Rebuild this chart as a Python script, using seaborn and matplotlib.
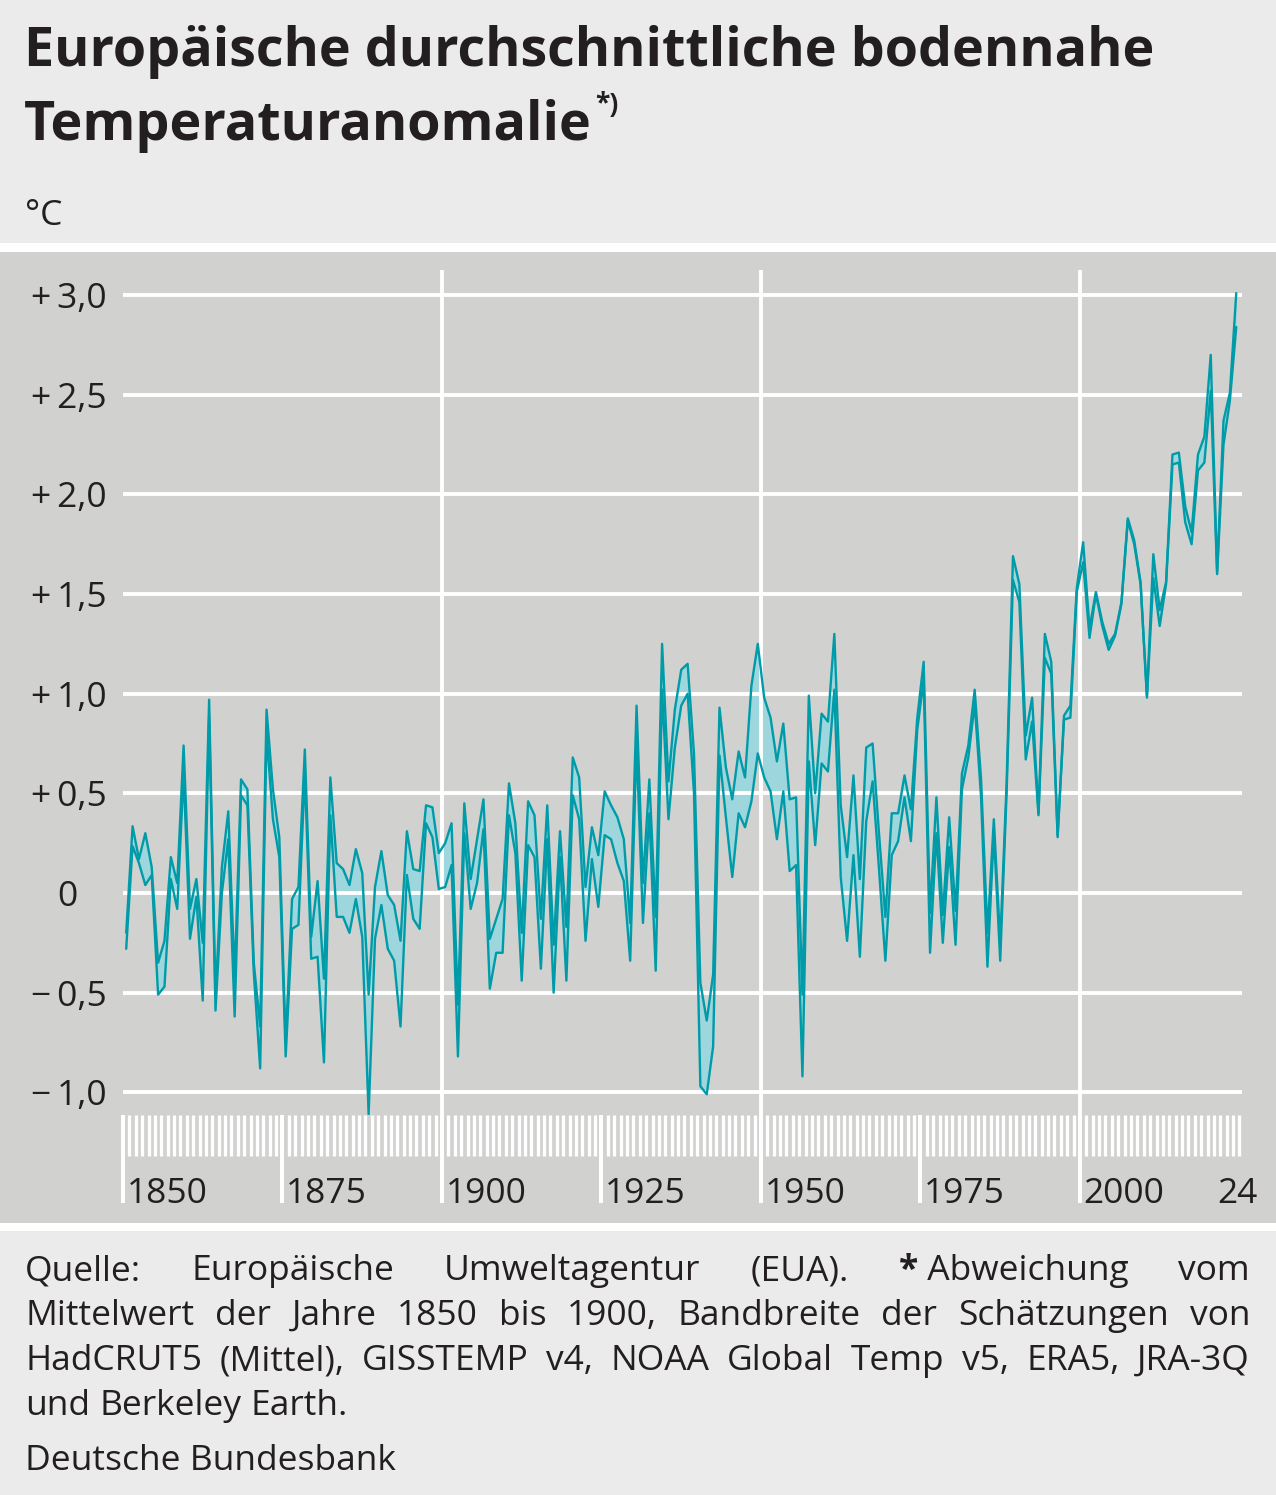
"""
European surface temperature anomaly (Bundesbank style chart).
"""
import matplotlib
matplotlib.use("Agg")
import matplotlib.pyplot as plt
from matplotlib.patches import Rectangle
import seaborn as sns
import numpy as np
import pandas as pd


# Data: range of estimates, deviation from 1850-1900 mean (deg C)
years = np.arange(1850, 2025)

upper = [
    -0.20, 0.335, 0.17, 0.30, 0.13, -0.35, -0.24, 0.18, 0.05, 0.74,      # 1850
    -0.08, 0.07, -0.25, 0.97, -0.52, 0.13, 0.41, -0.42, 0.57, 0.52,      # 1860
    -0.35, -0.67, 0.92, 0.52, 0.28, -0.75, -0.03, 0.03, 0.72, -0.22,     # 1870
    0.06, -0.43, 0.58, 0.15, 0.12, 0.04, 0.22, 0.10, -0.51, 0.03,        # 1880
    0.21, -0.01, -0.06, -0.24, 0.31, 0.12, 0.11, 0.44, 0.43, 0.20,       # 1890
    0.25, 0.35, -0.56, 0.45, 0.07, 0.27, 0.47, -0.23, -0.13, -0.03,      # 1900
    0.55, 0.35, -0.20, 0.46, 0.39, -0.13, 0.44, -0.26, 0.31, -0.17,      # 1910
    0.68, 0.58, 0.03, 0.33, 0.19, 0.51, 0.44, 0.38, 0.27, -0.15,         # 1920
    0.94, 0.05, 0.57, -0.12, 1.25, 0.56, 0.92, 1.12, 1.15, 0.70,         # 1930
    -0.45, -0.64, -0.41, 0.93, 0.63, 0.47, 0.71, 0.58, 1.04, 1.25,       # 1940
    0.98, 0.88, 0.66, 0.85, 0.47, 0.48, -0.51, 0.99, 0.50, 0.90,         # 1950
    0.86, 1.30, 0.44, 0.18, 0.59, 0.07, 0.73, 0.75, 0.30, -0.12,         # 1960
    0.40, 0.40, 0.59, 0.42, 0.88, 1.16, -0.10, 0.48, -0.11, 0.38,        # 1970
    -0.09, 0.60, 0.74, 1.02, 0.57, -0.20, 0.37, -0.25, 0.55, 1.69,       # 1980
    1.55, 0.79, 0.98, 0.40, 1.30, 1.16, 0.29, 0.89, 0.94, 1.53,          # 1990
    1.76, 1.33, 1.51, 1.36, 1.25, 1.30, 1.46, 1.88, 1.77, 1.56,          # 2000
    0.99, 1.70, 1.42, 1.56, 2.20, 2.21, 1.94, 1.81, 2.20, 2.29,          # 2010
    2.70, 1.61, 2.37, 2.51, 3.01,                                        # 2020
]
lower = [
    -0.28, 0.235, 0.15, 0.04, 0.09, -0.51, -0.47, 0.07, -0.08, 0.60,
    -0.23, -0.02, -0.54, 0.88, -0.59, 0.00, 0.27, -0.62, 0.49, 0.44,
    -0.40, -0.88, 0.80, 0.37, 0.18, -0.82, -0.18, -0.16, 0.60, -0.33,
    -0.32, -0.85, 0.39, -0.12, -0.12, -0.20, -0.03, -0.22, -1.11, -0.23,
    -0.06, -0.28, -0.34, -0.67, 0.09, -0.13, -0.18, 0.35, 0.28, 0.02,
    0.03, 0.14, -0.82, 0.30, -0.08, 0.05, 0.32, -0.48, -0.30, -0.30,
    0.39, 0.20, -0.44, 0.24, 0.18, -0.38, 0.27, -0.50, 0.18, -0.44,
    0.49, 0.37, -0.24, 0.17, -0.07, 0.29, 0.27, 0.15, 0.06, -0.34,
    0.75, -0.15, 0.40, -0.39, 1.02, 0.37, 0.73, 0.94, 1.00, 0.50,
    -0.97, -1.01, -0.77, 0.69, 0.38, 0.08, 0.40, 0.33, 0.46, 0.70,
    0.58, 0.51, 0.27, 0.51, 0.11, 0.14, -0.92, 0.66, 0.24, 0.65,
    0.61, 1.02, 0.08, -0.24, 0.19, -0.32, 0.36, 0.56, 0.12, -0.34,
    0.19, 0.26, 0.48, 0.26, 0.82, 1.07, -0.30, 0.30, -0.25, 0.23,
    -0.26, 0.52, 0.68, 0.95, 0.48, -0.37, 0.30, -0.34, 0.50, 1.57,
    1.46, 0.67, 0.86, 0.39, 1.18, 1.10, 0.28, 0.87, 0.88, 1.51,
    1.66, 1.28, 1.50, 1.34, 1.22, 1.29, 1.45, 1.87, 1.75, 1.55,
    0.98, 1.58, 1.34, 1.55, 2.15, 2.16, 1.86, 1.75, 2.12, 2.16,
    2.52, 1.60, 2.25, 2.47, 2.84,
]

y_ticks = [-1.0, -0.5, 0.0, 0.5, 1.0, 1.5, 2.0, 2.5, 3.0]
y_labels = ["\u2212\u20091,0", "\u2212\u20090,5", "0", "+\u20090,5", "+\u20091,0",
            "+\u20091,5", "+\u20092,0", "+\u20092,5", "+\u20093,0"]
label_years = [1850, 1875, 1900, 1925, 1950, 1975, 2000]
grid_years = [1900, 1950, 2000]

title_1 = "Europäische durchschnittliche bodennahe"
title_2 = "Temperaturanomalie"
unit = "°C"
footer = [
    "Quelle: Europäische Umweltagentur (EUA). *Abweichung vom",
    "Mittelwert der Jahre 1850 bis 1900, Bandbreite der Schätzungen von",
    "HadCRUT5 (Mittel), GISSTEMP v4, NOAA Global Temp v5, ERA5, JRA-3Q",
    "und Berkeley Earth.",
]
publisher = "Deutsche Bundesbank"

# Style
W, H, DPI = 1276, 1495, 100
LINE = "#009ba8"
FILL = "#9dd6dc"
PANEL = "#d1d1cf"
BG = "#ebebeb"
INK = "#231f20"
FS = 25.5
TITLE_FS = 38.8

sns.set_theme(style="white")
plt.rcParams['font.family'] = ['Open Sans', 'DejaVu Sans']


def fx(px):
    return px / W


def fy(py):
    return 1 - py / H


fig = plt.figure(figsize=(W / DPI, H / DPI), dpi=DPI, facecolor=BG)

# white separators + grey plot panel
fig.patches.append(Rectangle((0, fy(1231)), 1, fy(243) - fy(1231), transform=fig.transFigure,
                             facecolor="white", edgecolor="none", zorder=-2))
fig.patches.append(Rectangle((0, fy(1223)), 1, fy(252) - fy(1223), transform=fig.transFigure,
                             facecolor=PANEL, edgecolor="none", zorder=-1))

ax = fig.add_axes([fx(123), fy(1115), fx(1242) - fx(123), fy(270) - fy(1115)])
ax.set_facecolor("none")

df = pd.DataFrame({"year": years, "upper": upper, "lower": lower})
df["mid"] = df["year"] + 0.5   # annual values drawn at mid-year

ax.fill_between(df["mid"], df["lower"], df["upper"], color=FILL, lw=0, zorder=1)
sns.lineplot(data=df, x="mid", y="upper", color=LINE, lw=1.7, ax=ax, zorder=2)
sns.lineplot(data=df, x="mid", y="lower", color=LINE, lw=1.7, ax=ax, zorder=2)

ax.set_xlim(1850, 2025.4)
ax.set_ylim(-1.114, 3.126)
ax.set_xlabel("")
ax.set_ylabel("")
for s in ax.spines.values():
    s.set_visible(False)

# grid
ax.set_axisbelow("line")
ax.set_yticks(y_ticks)
ax.set_yticklabels([])
ax.yaxis.grid(True, color="white", lw=2.8)
ax.tick_params(axis="y", length=0)
for yr in grid_years:
    ax.axvline(yr, color="white", lw=2.8, zorder=1.5)

# year ticks strip
ax.set_xticks(label_years)
ax.set_xticks(np.arange(1850, 2026), minor=True)
ax.set_xticklabels([])
ax.tick_params(axis="x", which="major", direction="out", length=63.5, width=2.9,
               color="white", bottom=True)
ax.tick_params(axis="x", which="minor", direction="out", length=29.5, width=2.4,
               color="white", bottom=True)

for yr in label_years:
    ax.annotate(str(yr), xy=(yr, 0), xycoords=("data", "axes fraction"),
                xytext=(2.5, -63.5), textcoords="offset points",
                ha="left", va="baseline", fontsize=FS, color=INK)
ax.annotate("24", xy=(2024.6, 0), xycoords=("data", "axes fraction"),
            xytext=(0, -63.5), textcoords="offset points",
            ha="center", va="baseline", fontsize=FS, color=INK)

for v, lab in zip(y_ticks, y_labels):
    dx = -11.5 if lab != "0" else -33
    ax.annotate(lab, xy=(0, v), xycoords=("axes fraction", "data"),
                xytext=(dx, 0), textcoords="offset points",
                ha="right", va="center_baseline", fontsize=FS, color=INK)

# header
fig.text(fx(24), fy(66), title_1, fontsize=TITLE_FS, fontweight="bold", color=INK, va="baseline")
t2 = fig.text(fx(24), fy(140), title_2, fontsize=TITLE_FS, fontweight="bold", color=INK,
              va="baseline")
renderer = fig.canvas.get_renderer()
t2_right = t2.get_window_extent(renderer).x1
fig.text(t2_right / W + fx(3), fy(112), "*)", fontsize=19, fontweight="bold", color=INK,
         va="baseline")
fig.text(fx(25), fy(225), unit, fontsize=FS, color=INK, va="baseline")


# footer, justified like the original
def word_width(parts):
    w = 0
    for txt, weight in parts:
        t = fig.text(0, 0, txt, fontsize=FS, fontweight=weight)
        w += t.get_window_extent(renderer).width
        t.remove()
    return w


def split_word(word):
    if word.startswith("*"):
        return [("*", "bold"), (" " + word[1:], "normal")]
    return [(word, "normal")]


left, right = 25, 1250
baselines = [1280, 1325, 1370, 1415]
for i, (line, base) in enumerate(zip(footer, baselines)):
    words = [split_word(w) for w in line.split()]
    widths = [word_width(p) for p in words]
    last = i == len(footer) - 1
    if last:
        space = word_width([(" ", "normal")])
    else:
        space = (right - left - sum(widths)) / (len(words) - 1)
    x = left
    for parts, w in zip(words, widths):
        xx = x
        for txt, weight in parts:
            t = fig.text(fx(xx), fy(base), txt, fontsize=FS, fontweight=weight,
                         color=INK, va="baseline")
            xx += t.get_window_extent(renderer).width
        x += w + space

fig.text(fx(25), fy(1470), publisher, fontsize=FS, color=INK, va="baseline")

fig.savefig("out.png", dpi=DPI, facecolor=BG)
